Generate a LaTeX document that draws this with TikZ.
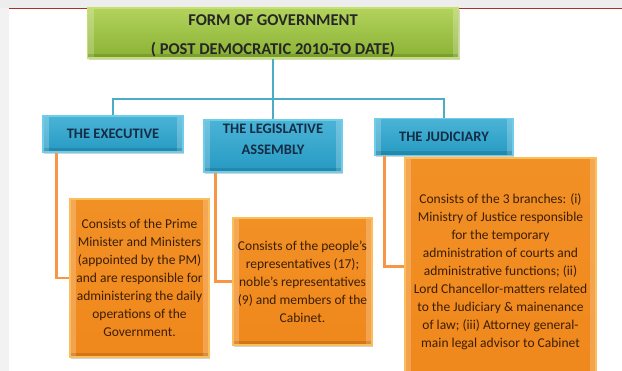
\documentclass[tikz,border=0pt]{standalone}
\usepackage{fontspec}
\setmainfont{Carlito}
\usetikzlibrary{shadows}
\definecolor{govgreen}{RGB}{138,178,52}
\definecolor{govgreenlt}{RGB}{196,224,110}
\definecolor{govblue}{RGB}{38,154,194}
\definecolor{govbluelt}{RGB}{110,205,235}
\definecolor{govorange}{RGB}{240,136,28}
\definecolor{govorangelt}{RGB}{250,190,90}
\definecolor{linkblue}{RGB}{75,172,198}
\definecolor{linkorange}{RGB}{247,150,70}
\definecolor{slidered}{RGB}{170,50,45}
\definecolor{navytext}{RGB}{20,45,70}
\definecolor{browntext}{RGB}{60,30,5}

\tikzset{bevel/.style={path picture={
    \fill[white,opacity=0.22] (path picture bounding box.south west) rectangle ([xshift=6pt]path picture bounding box.north west);
    \fill[white,opacity=0.22] (path picture bounding box.south east) rectangle ([xshift=-6pt]path picture bounding box.north east);
    \fill[black,opacity=0.12] (path picture bounding box.south west) rectangle ([yshift=4pt]path picture bounding box.south east);}}}

\begin{document}
\begin{tikzpicture}[x=1pt,y=-1pt,
    head/.style={draw=govgreenlt,line width=1.2pt,top color=govgreenlt!70!govgreen,bottom color=govgreen,bevel,
      drop shadow={opacity=0.35,shadow xshift=1pt,shadow yshift=-2pt},
      minimum width=371pt,minimum height=50pt,inner sep=0pt,align=center,
      font=\fontsize{16.5}{16.5}\selectfont\bfseries,text=black!85},
    branch/.style={draw=govbluelt,line width=1.2pt,top color=govbluelt!50!govblue,bottom color=govblue,bevel,
      drop shadow={opacity=0.35,shadow xshift=1pt,shadow yshift=-2pt},
      inner sep=0pt,align=center,font=\fontsize{14.5}{21}\selectfont\bfseries,text=navytext},
    detail/.style={draw=govorangelt,line width=1.5pt,top color=govorange!85!govorangelt,bottom color=govorange,bevel,
      drop shadow={opacity=0.35,shadow xshift=1pt,shadow yshift=-2pt},
      inner sep=0pt,align=center,font=\fontsize{13.5}{18}\selectfont,text=browntext},
    link/.style={draw=linkblue,line width=2.2pt},
    feed/.style={draw=linkorange,line width=2.2pt}]

\useasboundingbox (0,0) rectangle (622,371);
\clip (0,0) rectangle (622,371);

% Slide frame
\fill[black!7] (0,0) rectangle (622,8);
\fill[black!5] (0,8) rectangle (9,371);
\draw[slidered,line width=0.8pt] (9,8.5) -- (622,8.5);

% Title
\node[head] (gov) at (273,33) {\rule{0pt}{17pt}FORM OF GOVERNMENT\\[13pt]( POST DEMOCRATIC 2010-TO DATE)};

% Branches
\node[branch,minimum width=140pt,minimum height=36pt] (exec) at (113,134) {THE EXECUTIVE};
\node[branch,minimum width=138pt,minimum height=52pt] (leg) at (273,146) {THE LEGISLATIVE\\ASSEMBLY\rule[-14pt]{0pt}{0pt}};
\node[branch,minimum width=138pt,minimum height=37pt] (jud) at (444,137) {THE JUDICIARY};

% Details
\node[detail,minimum width=139pt,minimum height=158pt] (execd) at (139.5,278) {Consists of the Prime\\Minister and Ministers\\(appointed by the PM)\\and are responsible for\\administering the daily\\operations of the\\Government.};
\node[detail,minimum width=139pt,minimum height=127pt] (legd) at (302.5,281.5) {Consists of the people's\\representatives (17);\\noble's representatives\\(9) and members of the\\Cabinet.};
\node[detail,minimum width=191pt,minimum height=227pt] (judd) at (500.5,271.5) {Consists of the 3 branches: (i)\\Ministry of Justice responsible\\for the temporary\\administration of courts and\\administrative functions; (ii)\\Lord Chancellor-matters related\\to the Judiciary \& mainenance\\of law; (iii) Attorney general-\\main legal advisor to Cabinet};

% Connections
\coordinate (bus) at (273,99);
\draw[link] (gov.south) -- (bus);
\draw[link] (exec.north) |- (bus) -| (jud.north);
\draw[link] (bus) -- (leg.north);
\draw[feed] ([xshift=14pt]exec.south west) |- (execd.west);
\draw[feed] ([xshift=12pt]leg.south west) |- (legd.west);
\draw[feed] ([xshift=10pt]jud.south west) |- ([yshift=5pt]judd.west);
\end{tikzpicture}
\end{document}
